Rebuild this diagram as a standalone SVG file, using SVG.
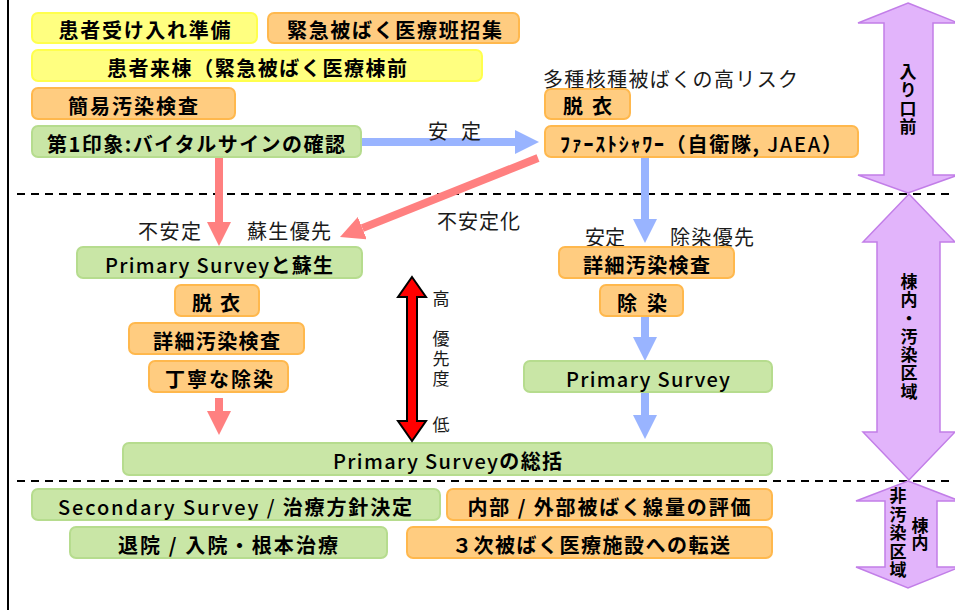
<svg xmlns="http://www.w3.org/2000/svg" width="955" height="610" viewBox="0 0 955 610">
<defs>
<style>
.bx{stroke-width:2}
.y{fill:#FFFF80;stroke:#FFFF4D}
.o{fill:#FFCC80;stroke:#FFB84D}
.g{fill:#C9E6A6;stroke:#B6DC8E}
.t{font-family:"Noto Sans CJK JP","Noto Sans",sans-serif;font-size:20px;font-weight:bold;text-anchor:middle;fill:#000}
.lat{font-weight:500}
.l{font-family:"Noto Sans CJK JP","Noto Sans",sans-serif;font-size:20px;fill:#1a1a1a}
.v{font-family:"Noto Sans CJK JP",sans-serif;font-size:17px;font-weight:bold;fill:#000;writing-mode:vertical-rl;letter-spacing:1.3px}
.vl{font-family:"Noto Sans CJK JP",sans-serif;font-size:17px;fill:#1a1a1a;writing-mode:vertical-rl}
.pk{stroke:#FF8080;stroke-width:8;fill:none}
.bl{stroke:#99B4FF;stroke-width:8;fill:none}
.dash{stroke:#000;stroke-width:2;stroke-dasharray:8 6}
.pu{fill:#E2B4FB;stroke:#C27EE8;stroke-width:1.5}
</style>
<marker id="hp" markerUnits="userSpaceOnUse" markerWidth="24" markerHeight="24" refX="0" refY="12" orient="auto"><path d="M0,0 L24,12 L0,24 z" fill="#FF8080"/></marker>
<marker id="hb" markerUnits="userSpaceOnUse" markerWidth="24" markerHeight="24" refX="0" refY="12" orient="auto"><path d="M0,0 L24,12 L0,24 z" fill="#99B4FF"/></marker>
</defs>
<rect width="955" height="610" fill="#fff"/>
<line x1="8" y1="0" x2="8" y2="610" stroke="#000" stroke-width="2"/>
<line class="dash" x1="17" y1="194" x2="955" y2="194"/>
<line class="dash" x1="17" y1="481" x2="955" y2="481"/>

<g id="connectors">
<line class="pk" x1="219" y1="157" x2="219" y2="222" marker-end="url(#hp)"/>
<line class="pk" x1="538" y1="158" x2="362.3" y2="228.1" marker-end="url(#hp)"/>
<line class="pk" x1="219" y1="398" x2="219" y2="411" marker-end="url(#hp)"/>
<line class="bl" x1="361" y1="142" x2="515" y2="142" marker-end="url(#hb)"/>
<line class="bl" x1="645" y1="157" x2="645" y2="219" marker-end="url(#hb)"/>
<line class="bl" x1="645" y1="316" x2="645" y2="337" marker-end="url(#hb)"/>
<line class="bl" x1="645" y1="392" x2="645" y2="415" marker-end="url(#hb)"/>
</g>

<g id="labels">
<text class="l" x="543" y="87" textLength="255">多種核種被ばくの高リスク</text>
<text class="l" x="428" y="139" textLength="53">安 定</text>
<text class="l" x="138" y="239" textLength="63">不安定</text>
<text class="l" x="247" y="239" textLength="84">蘇生優先</text>
<text class="l" x="437" y="229" textLength="83">不安定化</text>
<text class="l" x="585" y="245" textLength="40">安定</text>
<text class="l" x="670" y="245" textLength="84">除染優先</text>
</g>

<g id="n1"><rect class="bx y" x="32" y="13" width="225" height="30" rx="6"/><text class="t" x="144.5" y="38" textLength="172">患者受け入れ準備</text></g>
<g id="n2"><rect class="bx o" x="268" y="13" width="251" height="30" rx="6"/><text class="t" x="394.5" y="38" textLength="215">緊急被ばく医療班招集</text></g>
<g id="n3"><rect class="bx y" x="32" y="50" width="450" height="31" rx="6"/><text class="t" x="257" y="75.5" textLength="300">患者来棟（緊急被ばく医療棟前</text></g>
<g id="n4"><rect class="bx o" x="32" y="88" width="203" height="31" rx="6"/><text class="t" x="133" y="113.5" textLength="130">簡易汚染検査</text></g>
<g id="n5"><rect class="bx g" x="32" y="126" width="329" height="31" rx="6"/><text class="t" x="196" y="151.5" textLength="298">第1印象:バイタルサインの確認</text></g>
<g id="n6"><rect class="bx o" x="545" y="89" width="85" height="30" rx="6"/><text class="t" x="587.5" y="114" textLength="49">脱 衣</text></g>
<g id="n7"><rect class="bx o" x="545" y="126" width="313" height="31" rx="6"/><text class="t" x="701" y="151.5" textLength="282">ﾌｧｰｽﾄｼｬﾜｰ（自衛隊, <tspan class="lat">JAEA</tspan>）</text></g>
<g id="n8"><rect class="bx g" x="77" y="247" width="285" height="31" rx="6"/><text class="t" x="219" y="272.5" textLength="228"><tspan class="lat">Primary Survey</tspan>と蘇生</text></g>
<g id="n9"><rect class="bx o" x="175" y="285" width="84" height="31" rx="6"/><text class="t" x="216" y="310.5" textLength="48">脱 衣</text></g>
<g id="n10"><rect class="bx o" x="129" y="323" width="175" height="31" rx="6"/><text class="t" x="216.5" y="348.5" textLength="127">詳細汚染検査</text></g>
<g id="n11"><rect class="bx o" x="149" y="361" width="139" height="31" rx="6"/><text class="t" x="219" y="386.5" textLength="108">丁寧な除染</text></g>
<g id="n12"><rect class="bx o" x="559" y="247" width="175" height="31" rx="6"/><text class="t" x="646.5" y="272.5" textLength="127">詳細汚染検査</text></g>
<g id="n13"><rect class="bx o" x="600" y="285" width="83" height="31" rx="6"/><text class="t" x="642" y="310.5" textLength="50">除 染</text></g>
<g id="n14"><rect class="bx g" x="524" y="361" width="248" height="31" rx="6"/><text class="t lat" x="648" y="386.5" textLength="164">Primary Survey</text></g>
<g id="n15"><rect class="bx g" x="123" y="443" width="649" height="32" rx="6"/><text class="t" x="447.5" y="468.5" textLength="229"><tspan class="lat">Primary Survey</tspan>の総括</text></g>
<g id="n16"><rect class="bx g" x="32" y="489" width="408" height="31" rx="6"/><text class="t" x="235" y="514.5" textLength="354"><tspan class="lat">Secondary Survey / </tspan>治療方針決定</text></g>
<g id="n17"><rect class="bx o" x="447" y="489" width="325" height="31" rx="6"/><text class="t" x="609" y="514.5" textLength="283">内部 / 外部被ばく線量の評価</text></g>
<g id="n18"><rect class="bx g" x="70" y="527" width="317" height="31" rx="6"/><text class="t" x="228" y="552.5" textLength="220">退院 / 入院・根本治療</text></g>
<g id="n19"><rect class="bx o" x="407" y="527" width="365" height="31" rx="6"/><text class="t" x="591" y="552.5" textLength="278">３次被ばく医療施設への転送</text></g>

<g id="priority">
<polygon points="412,277 426,297 417,297 417,421 426,421 412,441 398,421 407,421 407,297 398,297" fill="#FF0000" stroke="#000" stroke-width="2" stroke-linejoin="miter"/>
<text class="vl" x="441" y="290">高</text>
<text class="vl" x="441" y="330" style="letter-spacing:3px">優先度</text>
<text class="vl" x="441" y="416">低</text>
</g>

<g id="zone1">
<polygon class="pu" points="908,3 958,23 933,23 933,175 958,175 908,193 858,175 884,175 884,23 858,23"/>
<text class="v" x="908" y="63">入り口前</text>
</g>
<g id="zone2">
<polygon class="pu" points="909,194 955,242 940,242 940,432 955,432 909,480 863,432 877,432 877,242 863,242"/>
<text class="v" x="909" y="273">棟内・汚染区域</text>
</g>
<g id="zone3">
<polygon class="pu" points="908,481 960,501 937,501 937,567 960,567 908,588 856,567 885,567 885,501 856,501"/>
<text class="v" x="898" y="487" style="letter-spacing:1.6px">非汚染区域</text>
<text class="v" x="920" y="517" style="letter-spacing:0.5px">棟内</text>
</g>
</svg>
